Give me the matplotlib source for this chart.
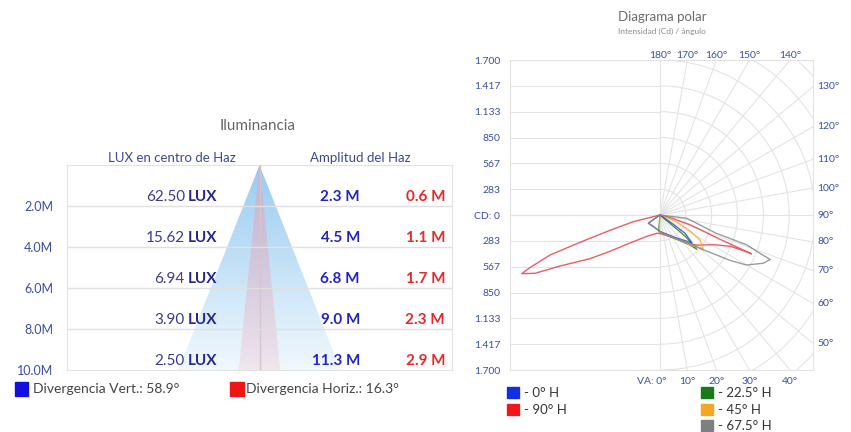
import numpy as np
import matplotlib
matplotlib.use("Agg")
import matplotlib.pyplot as plt
from matplotlib.patches import Polygon, Rectangle, Arc

plt.rcParams["font.family"] = ["Lato", "DejaVu Sans"]

W, H = 851, 432

# ---- Iluminancia (left panel)
DISTANCIAS = [2, 4, 6, 8, 10]
DIST_LABELS = ["2.0M", "4.0M", "6.0M", "8.0M", "10.0M"]
LUX_CENTRO = ["62.50", "15.62", "6.94", "3.90", "2.50"]
AMPLITUD_VERT = [2.3, 4.5, 6.8, 9.0, 11.3]
AMPLITUD_HORIZ = [0.6, 1.1, 1.7, 2.3, 2.9]
DIV_VERT = 58.9
DIV_HORIZ = 16.3

# ---- Diagrama polar (right panel)
CD_LEVELS = [283, 567, 850, 1133, 1417, 1700]
CD_LABELS = ["283", "567", "850", "1.133", "1.417", "1.700"]
ANGLE_TICKS = list(range(0, 190, 10))

# angle in degrees from nadir (negative = left half), intensity in cd
ANG_0H = [-60, -55, -30, -8, 0, 34, 45, 49, 54, 55, 60]
CD_0H = [0, 155, 145, 166, 181, 297, 403, 463, 338, 161, 0]

ANG_90H = [-80, -76, -73, -71, -70, -68, -67, -65, -63, -58, -54, -47, -32, -10, 0,
           33, 47, 53, 61, 66, 67, 67, 68, 72, 76, 80]
CD_90H = [0, 300, 573, 965, 1284, 1535, 1647, 1513, 1235, 903, 676, 450, 277, 204, 203,
          304, 479, 549, 671, 843, 1033, 1090, 709, 347, 113, 0]

ANG_22H = [-10, -5, 0, 30, 45, 47, 50, 50, 55]
CD_22H = [0, 170, 185, 290, 465, 551, 358, 171, 0]

ANG_45H = [-5, -3, 0, 33, 47, 52, 58, 62, 68, 72]
CD_45H = [0, 185, 190, 300, 497, 601, 517, 373, 177, 0]

ANG_67H = [-60, -55, -30, -8, 0, 33, 48, 50, 54, 57, 60, 65, 68, 69, 71, 72, 76, 83, 90]
CD_67H = [0, 157, 148, 166, 186, 301, 492, 571, 720, 913, 1097, 1251, 1304, 1175, 1006,
          645, 452, 295, 0]

SERIES = [
    ("- 90° H", ANG_90H, CD_90H, "#e8404e"),
    ("- 22.5° H", ANG_22H, CD_22H, "#2f8a2f"),
    ("- 45° H", ANG_45H, CD_45H, "#f2ac2c"),
    ("- 0° H", ANG_0H, CD_0H, "#2f52d6"),
    ("- 67.5° H", ANG_67H, CD_67H, "#8a8a8a"),
]

TICK_BLUE = "#3a4ea6"
GRID = "#e4e4e4"


def fx(x):
    return x / W


def fy(y):
    return 1 - y / H


fig = plt.figure(figsize=(W / 100, H / 100), dpi=100)
fig.patch.set_facecolor("white")

# ================= left: Iluminancia =================
axL = fig.add_axes([fx(67), fy(370), (452 - 67) / W, (370 - 165) / H])


def gradient_triangle(ax, half, rgb, a_top, a_bot, z):
    img = np.zeros((256, 1, 4))
    img[..., :3] = rgb
    img[..., 3] = np.linspace(a_top, a_bot, 256)[:, None]
    im = ax.imshow(img, extent=(-half, half, DISTANCIAS[-1], 0), aspect="auto",
                   interpolation="bilinear", zorder=z)
    tri = Polygon([(0, 0), (-half, DISTANCIAS[-1]), (half, DISTANCIAS[-1])], closed=True,
                  fc="none", ec="none")
    ax.add_patch(tri)
    im.set_clip_path(tri)


gradient_triangle(axL, AMPLITUD_VERT[-1] / 2, (0.55, 0.78, 0.94), 0.9, 0.12, 1)
gradient_triangle(axL, AMPLITUD_HORIZ[-1] / 2, (0.93, 0.62, 0.70), 0.55, 0.2, 2)
axL.plot([0, 0], [0, DISTANCIAS[-1]], color="#d7c4cc", lw=1, zorder=3)

axL.set_xlim(-13.4, 13.4)
axL.set_ylim(10, 0)
for d in DISTANCIAS[:-1]:
    axL.axhline(d, color="#e0e0e0", lw=1, zorder=3)

axL.set_xticks([])
axL.set_yticks(DISTANCIAS, DIST_LABELS)
axL.tick_params(axis="y", length=0, pad=10, labelsize=9, labelcolor=TICK_BLUE)
for s in axL.spines.values():
    s.set_color("#e2e2e2")

tr = axL.get_yaxis_transform()
for i, d in enumerate(DISTANCIAS):
    y = d - 0.45
    axL.text(0.306, y, LUX_CENTRO[i], transform=tr, ha="right", va="center",
             fontsize=11, color="#3c3c8c", zorder=5)
    axL.text(0.313, y, "LUX", transform=tr, ha="left", va="center",
             fontsize=11, fontweight="bold", color="#26268c", zorder=5)
    axL.text(0.761, y, f"{AMPLITUD_VERT[i]:.1f} M", transform=tr, ha="right", va="center",
             fontsize=11, fontweight="bold", color="#2424c4", zorder=5)
    axL.text(0.982, y, f"{AMPLITUD_HORIZ[i]:.1f} M", transform=tr, ha="right", va="center",
             fontsize=11, fontweight="bold", color="#e42a2a", zorder=5)

fig.text(fx(258), fy(126), "Iluminancia", ha="center", va="center", fontsize=11, color="#666666")
fig.text(fx(172), fy(158), "LUX en centro de Haz", ha="center", va="center", fontsize=9.5,
         color="#3c4a8c")
fig.text(fx(360), fy(158), "Amplitud del Haz", ha="center", va="center", fontsize=9.5,
         color="#3c4a8c")

fig.add_artist(Rectangle((fx(15), fy(396)), 13 / W, 14 / H, transform=fig.transFigure,
                         color="#1010e0"))
fig.text(fx(33), fy(389), f"Divergencia Vert.: {DIV_VERT}°", ha="left", va="center",
         fontsize=10, color="#444444")
fig.add_artist(Rectangle((fx(230), fy(396)), 14 / W, 14 / H, transform=fig.transFigure,
                         color="#ee1515"))
fig.text(fx(246), fy(389), f"Divergencia Horiz.: {DIV_HORIZ}°", ha="left", va="center",
         fontsize=10, color="#444444")

# ================= right: Diagrama polar =================
R = CD_LEVELS[-1]
XMIN, XMAX = -1645, 1678
axP = fig.add_axes([fx(510), fy(370), (813 - 510) / W, 310 / H])
axP.set_xlim(XMIN, XMAX)
axP.set_ylim(-R, R)

grid_kw = dict(color=GRID, lw=0.8, zorder=1)
for lvl in [0] + CD_LEVELS:
    axP.plot([XMIN, 0], [lvl, lvl], **grid_kw)
    axP.plot([XMIN, 0], [-lvl, -lvl], **grid_kw)
axP.plot([0, 0], [-R, R], **grid_kw)
step = R / 6
for k in range(1, 9):
    axP.add_patch(Arc((0, 0), 2 * k * step, 2 * k * step, theta1=-90, theta2=90,
                      color=GRID, lw=0.8, zorder=1))
for a in range(10, 180, 10):
    t = np.radians(a)
    axP.plot([0, 3000 * np.sin(t)], [0, -3000 * np.cos(t)], **grid_kw)

for name, ang, cd, col in SERIES:
    t = np.radians(ang)
    cd = np.array(cd, dtype=float)
    axP.plot(cd * np.sin(t), -cd * np.cos(t), color=col, lw=1.0, alpha=0.85, zorder=3)

yt = CD_LEVELS[::-1] + [0] + [-v for v in CD_LEVELS]
yl = CD_LABELS[::-1] + ["CD: 0"] + CD_LABELS
axP.set_yticks(yt, yl)
axP.set_xticks([])
axP.tick_params(axis="y", length=0, pad=7, labelsize=7.5, labelcolor=TICK_BLUE)
for s in axP.spines.values():
    s.set_color("#e2e2e2")

for a in ANGLE_TICKS:
    t = np.radians(a)
    sx, sy = np.sin(t), -np.cos(t)
    cands = []
    if sx > 1e-9:
        cands.append((XMAX / sx, "right"))
    if sy > 1e-9:
        cands.append((R / sy, "top"))
    if sy < -1e-9:
        cands.append((R / -sy, "bottom"))
    dist, edge = min(cands)
    px, py = dist * sx, dist * sy
    label = "VA: 0°" if a == 0 else f"{a}°"
    if edge == "right":
        kw = dict(xytext=(3, 0), ha="left", va="center")
    elif edge == "top":
        kw = dict(xytext=(0, 3), ha="center", va="center")
    else:
        kw = dict(xytext=(5 if a == 0 else 0, -8), ha="right" if a == 0 else "center",
                  va="center")
    axP.annotate(label, (px, py), textcoords="offset points", fontsize=7.5,
                 color=TICK_BLUE, annotation_clip=False, **kw)

fig.text(fx(662), fy(17), "Diagrama polar", ha="center", va="center", fontsize=9.5,
         color="#6a6a6a")
fig.text(fx(662), fy(31), "Intensidad (Cd) / ángulo", ha="center", va="center", fontsize=6,
         color="#8a8a8a")

legend_pos = {"- 0° H": (507, 393), "- 90° H": (507, 410),
              "- 22.5° H": (701, 393), "- 45° H": (701, 410), "- 67.5° H": (701, 426)}
leg_colors = {"- 0° H": "#1030e0", "- 90° H": "#ee1a1a", "- 22.5° H": "#1a7a1a",
              "- 45° H": "#f5a623", "- 67.5° H": "#7f7f7f"}
for name, _, _, _ in SERIES:
    x0, y0 = legend_pos[name]
    fig.add_artist(Rectangle((fx(x0), fy(y0 + 5)), 12 / W, 11 / H,
                             transform=fig.transFigure, color=leg_colors[name]))
    fig.text(fx(x0 + 17), fy(y0), name, ha="left", va="center", fontsize=9.5, color="#333333")

fig.savefig("out.png", dpi=100, facecolor="white")
